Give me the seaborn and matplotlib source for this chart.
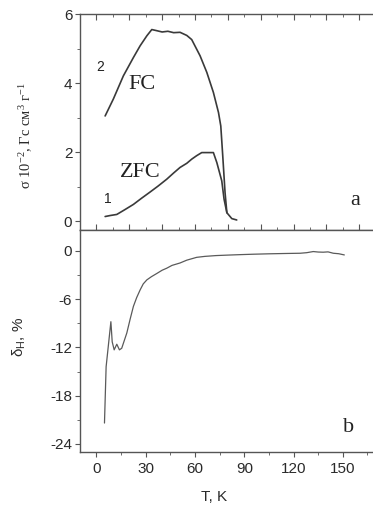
import numpy as np
import pandas as pd
import matplotlib
matplotlib.use("Agg")
import matplotlib.pyplot as plt
import seaborn as sns
from matplotlib.ticker import MultipleLocator

# ---- data ----
fc_T = [5.3, 10.3, 16.4, 22.5, 26.6, 30.7, 33.7, 36.5, 40.0, 43.5, 47.0, 50.9, 55.0, 58.0,
        63.1, 67.2, 71.2, 74.3, 75.7, 76.9, 78.3, 79.4, 82.4, 85.4]
fc_s = [3.05, 3.54, 4.21, 4.74, 5.08, 5.37, 5.55, 5.52, 5.48, 5.50, 5.46, 5.47, 5.38, 5.26,
        4.79, 4.31, 3.73, 3.15, 2.76, 1.89, 0.83, 0.25, 0.08, 0.04]

zfc_T = [5.3, 8.5, 12.4, 17.0, 22.5, 27.5, 32.7, 37.5, 42.8, 47.0, 50.9, 55.0, 58.0, 61.0,
         64.1, 68.0, 71.2, 73.3, 76.3, 77.7, 79.4]
zfc_s = [0.14, 0.17, 0.20, 0.33, 0.49, 0.67, 0.85, 1.02, 1.22, 1.40, 1.56, 1.68, 1.80, 1.90,
         1.99, 1.99, 1.99, 1.70, 1.17, 0.64, 0.25]

d_T = [4.9, 5.9, 7.3, 8.8, 9.6, 10.8, 12.4, 14.0, 15.4, 18.5, 20.5, 22.5, 24.5, 26.6, 28.5,
       30.7, 33.5, 36.8, 40.0, 42.8, 46.0, 50.9, 55.0, 61.0, 66.0, 72.8, 80.0, 88.0, 95.6,
       105.0, 115.0, 124.0, 128.0, 132.0, 135.0, 138.0, 141.0, 144.2, 147.5, 150.9]
d_v = [-21.4, -14.4, -11.7, -8.8, -11.3, -12.3, -11.6, -12.3, -12.1, -10.2, -8.5, -6.9, -5.8,
       -4.85, -4.1, -3.6, -3.2, -2.8, -2.4, -2.15, -1.8, -1.5, -1.15, -0.8, -0.68, -0.58,
       -0.52, -0.46, -0.41, -0.36, -0.32, -0.29, -0.22, -0.08, -0.14, -0.16, -0.12, -0.29,
       -0.35, -0.5]

sns.set_style("ticks")
plt.rcParams['font.family'] = ['Liberation Sans', 'DejaVu Sans']
plt.rcParams['axes.unicode_minus'] = False
plt.rcParams['mathtext.fontset'] = 'custom'
plt.rcParams['mathtext.rm'] = 'Liberation Serif'
plt.rcParams['mathtext.it'] = 'Liberation Serif:italic'
plt.rcParams['mathtext.sf'] = 'Liberation Sans'

W, H = 373, 511
fig = plt.figure(figsize=(W / 100, H / 100), dpi=100)

def frac_rect(x0, y0, x1, y1):
    return [x0 / W, 1 - y1 / H, (x1 - x0) / W, (y1 - y0) / H]

ax1 = fig.add_axes(frac_rect(80, 14, 375.7, 230))
ax2 = fig.add_axes(frac_rect(80, 230, 375.7, 452))

line_col = '#3a3a3a'
spine_col = '#555555'
txt_col = '#2a2a2a'

df_fc = pd.DataFrame({'T': fc_T, 's': fc_s})
df_zfc = pd.DataFrame({'T': zfc_T, 's': zfc_s})
df_d = pd.DataFrame({'T': d_T, 'd': d_v})

sns.lineplot(data=df_fc, x='T', y='s', ax=ax1, color=line_col, lw=1.2, sort=False)
sns.lineplot(data=df_zfc, x='T', y='s', ax=ax1, color=line_col, lw=1.2, sort=False)
sns.lineplot(data=df_d, x='T', y='d', ax=ax2, color='#5a5a5a', lw=0.9, sort=False)

for ax in (ax1, ax2):
    ax.set_xlim(-10, 170)
    for sp in ax.spines.values():
        sp.set_visible(True)
        sp.set_color(spine_col)
        sp.set_linewidth(1.0)
    ax.set_xlabel('')
    ax.set_ylabel('')

ax1.set_ylim(-0.25, 6.0)
ax1.yaxis.set_major_locator(MultipleLocator(2))
ax1.yaxis.set_minor_locator(MultipleLocator(1))
ax1.xaxis.set_major_locator(MultipleLocator(20))
ax1.xaxis.set_minor_locator(MultipleLocator(10))
ax1.tick_params(axis='x', which='both', direction='in', top=True, bottom=True,
                labelbottom=False, length=4, color=spine_col)
ax1.tick_params(axis='x', which='minor', length=2.5)
ax1.tick_params(axis='y', which='major', direction='out', length=3.5, labelsize=11,
                color=spine_col, labelcolor=txt_col, pad=2)
ax1.tick_params(axis='y', which='minor', direction='out', length=2, color=spine_col)

ax2.set_ylim(-25, 2.6)
ax2.yaxis.set_major_locator(MultipleLocator(6))
ax2.yaxis.set_minor_locator(MultipleLocator(3))
ax2.xaxis.set_major_locator(MultipleLocator(30))
ax2.xaxis.set_minor_locator(MultipleLocator(15))
ax2.tick_params(axis='both', which='major', direction='out', length=3.5, labelsize=11,
                color=spine_col, labelcolor=txt_col, pad=2)
ax2.tick_params(axis='both', which='minor', direction='out', length=2, color=spine_col)
ax2.tick_params(axis='x', pad=4)

# labels
ax1.set_ylabel('σ 10$^{-2}$, Гс см$^{3}$ г$^{-1}$', family=['Liberation Serif', 'DejaVu Serif'],
               fontsize=10.5, color=txt_col)
ax1.yaxis.set_label_coords(-0.152, 0.435)
ax2.set_ylabel('δ$_{\\mathsf{Н}}$, %', fontsize=11, color=txt_col)
ax2.yaxis.set_label_coords(-0.176, 0.52)
ax2.set_xlabel('T, K', fontsize=11, color=txt_col)
ax2.xaxis.set_label_coords(0.453, -0.171)

serif = ['Liberation Serif', 'DejaVu Serif']
ax1.text(27.6, 3.97, 'FC', family=serif, fontsize=16, color='#222222', ha='center', va='center')
ax1.text(26.6, 1.42, 'ZFC', family=serif, fontsize=16, color='#222222', ha='center', va='center')
ax1.text(2.3, 4.46, '2', fontsize=10, color='#222222', ha='center', va='center')
ax1.text(7.2, 0.64, '1', fontsize=10, color='#222222', ha='center', va='center')
ax1.text(157.5, 0.59, 'a', family=serif, fontsize=16, color='#222222', ha='center', va='center')
ax2.text(153.5, -22.0, 'b', family=serif, fontsize=16, color='#222222', ha='center', va='center')

fig.savefig('out.png', dpi=100)
